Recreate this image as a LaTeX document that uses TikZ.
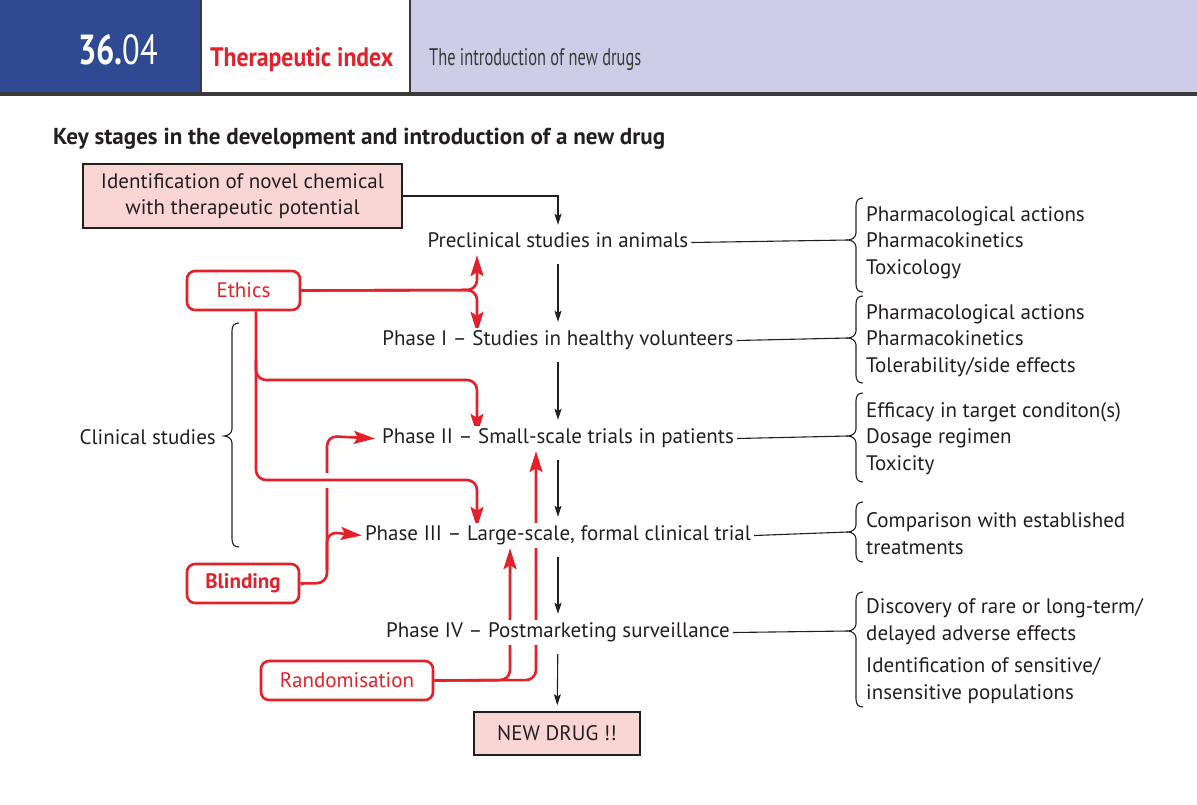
\documentclass[tikz,border=0pt]{standalone}
\usepackage{fontspec}
\setmainfont{PT Sans}
\usetikzlibrary{arrows.meta}
\pgfdeclarelayer{bg}
\pgfsetlayers{bg,main}
\definecolor{hdrblue}{HTML}{2F4A93}
\definecolor{hdrlav}{HTML}{CDCDE7}
\definecolor{hdrline}{HTML}{3A3A3A}
\definecolor{myred}{HTML}{E3212B}
\definecolor{boxpink}{HTML}{F9D6D4}
\definecolor{ink}{HTML}{231F20}
\newcommand\bodyfont{\fontsize{21}{26.5}\selectfont}
\newcommand\mybrace[4]{% x of spine, top, tip, bottom
  \draw[blkln] (#1+7,#2) .. controls (#1+2,#2) and (#1,#2+3) .. (#1,#2+8)
    -- (#1,#3-7) .. controls (#1,#3-3) and (#1-4,#3) .. (#1-8,#3)
    .. controls (#1-4,#3) and (#1,#3+3) .. (#1,#3+7)
    -- (#1,#4-8) .. controls (#1,#4-3) and (#1+2,#4) .. (#1+7,#4);}
\begin{document}
\begin{tikzpicture}[x=1pt,y=-1pt,
  stage/.style={font=\bodyfont, text=ink, fill=white, inner sep=3pt, text height=14pt, text depth=5pt, anchor=base},
  listtxt/.style={font=\bodyfont, text=ink, align=left, anchor=west, inner sep=0pt},
  pinkbox/.style={draw=ink, line width=1.3pt, fill=boxpink, font=\bodyfont, text=ink, align=center, inner sep=0pt},
  redbox/.style={draw=myred, line width=2.6pt, rounded corners=8pt, fill=white, text=myred, font=\bodyfont, inner sep=0pt},
  redln/.style={myred, line width=2.6pt, rounded corners=10pt},
  redarr/.style={redln, -{Stealth[length=21pt,width=13pt,inset=4pt]}},
  blkln/.style={ink, line width=1.1pt},
  blkarr/.style={blkln, -{Stealth[length=11pt,width=7pt,inset=2pt]}, shorten <=9pt, shorten >=6pt}]
\useasboundingbox (0,0) rectangle (1197,804);
\begin{pgfonlayer}{bg}
\fill[white] (0,0) rectangle (1197,804);
\end{pgfonlayer}
% header
\fill[hdrblue] (0,0) rectangle (200,93);
\fill[hdrlav] (410,0) rectangle (1197,93);
\draw[hdrline, line width=2pt] (201,0) -- (201,93) (410,0) -- (410,93);
\fill[hdrline] (0,92) rectangle (1197,95.5);
\node[anchor=base west, inner sep=0pt, text=white] (num) at (78,64) {\resizebox{80pt}{30pt}{\bfseries 36.\mdseries 04}};
\node[anchor=base west, inner sep=0pt, text=myred] (chap) at (210,66) {\resizebox{183pt}{19pt}{\bfseries Therapeutic index}};
\node[anchor=base west, inner sep=0pt, text=hdrline] (sub) at (429,65) {\resizebox{212pt}{17pt}{The introduction of new drugs}};
% title
\node[anchor=base west, inner sep=0pt, text=ink] (title) at (53,144) {\resizebox{612pt}{!}{\fontsize{20}{24}\selectfont\bfseries Key stages in the development and introduction of a new drug}};
% main boxes and stages
\node[pinkbox, minimum width=319pt, minimum height=64pt] (ident) at (242.5,196) {Identification of novel chemical\\with therapeutic potential};
\node[stage] (pre) at (558,247) {Preclinical studies in animals};
\node[stage] (p1) at (558,345) {Phase I -- Studies in healthy volunteers};
\node[stage] (p2) at (558,443) {Phase II -- Small-scale trials in patients};
\node[stage] (p3) at (558,540) {Phase III -- Large-scale, formal clinical trial};
\node[stage] (p4) at (558,637) {Phase IV -- Postmarketing surveillance};
\node[pinkbox, minimum width=166pt, minimum height=43pt] (newdrug) at (557,733.5) {NEW DRUG !!};
% red boxes
\node[redbox, minimum width=113pt, minimum height=39pt] (ethics) at (243.5,290.5) {Ethics};
\node[redbox, minimum width=112pt, minimum height=39pt, font=\bodyfont\bfseries] (blind) at (243,583.5) {Blinding};
\node[redbox, minimum width=172pt, minimum height=39pt] (rand) at (347,680.5) {Randomisation};
% black flow
\draw[blkln, -{Stealth[length=11pt,width=7pt,inset=2pt]}, shorten >=5pt] (ident.east) -| (pre.north);
\draw[blkarr] (pre) -- (p1);
\draw[blkarr] (p1) -- (p2);
\draw[blkarr] (p2) -- (p3);
\draw[blkarr] (p3) -- (p4);
\draw[blkarr] (p4) -- (newdrug);
% right braces and lists
\coordinate (t1) at (848,240);
\coordinate (t2) at (848,338);
\coordinate (t3) at (848,436);
\coordinate (t4) at (848,532);
\coordinate (t5) at (848,631);
\mybrace{856}{198}{240}{292}
\mybrace{856}{296}{338}{383}
\mybrace{856}{393}{436}{482}
\mybrace{856}{502}{532}{562}
\mybrace{856}{592}{631}{707}
\draw[blkln] (pre.east) -- (t1);
\draw[blkln] (p1.east) -- (t2);
\draw[blkln] (p2.east) -- (t3);
\draw[blkln] (p3.east) -- (t4);
\draw[blkln] (p4.east) -- (t5);
\node[listtxt] (l1) at (866,242.5) {Pharmacological actions\\Pharmacokinetics\\Toxicology};
\node[listtxt] (l2) at (866,340.5) {Pharmacological actions\\Pharmacokinetics\\Tolerability/side effects};
\node[listtxt] (l3) at (866,438.5) {Efficacy in target conditon(s)\\Dosage regimen\\Toxicity};
\node[listtxt] (l4) at (866,533.5) {Comparison with established\\treatments};
\node[listtxt] (l5a) at (866,621.5) {Discovery of rare or long-term/\\delayed adverse effects};
\node[listtxt] (l5b) at (866,680.5) {Identification of sensitive/\\insensitive populations};
% left brace
\mybrace{232}{323}{436}{547}
\node[font=\bodyfont, text=ink, anchor=east, inner sep=0pt] (clin) at (216,437) {Clinical studies};
% red connectors (behind stage labels)
\begin{pgfonlayer}{bg}
\draw[redarr] (ethics.east) -- (477,290) -- (477,0 |- pre.south);
\draw[redarr] (ethics.east) -- (477,290) -- ([yshift=-5pt]477,0 |- p1.north);
\draw[redarr] (256,0 |- ethics.south) -- (256,380) -- (477,380) -- ([yshift=-9pt]477,0 |- p2.north);
% blinding
\draw[redarr] (blind.east) -- (327,583) -- (327,436) -- ([xshift=-4pt]p2.west);
\draw[redarr] (327,570) -- (327,532) -- (p3.west);
% ethics lower branch crossing over blinding line
\draw[white, line width=15pt] (305,480) -- (350,480);
\draw[redarr] (256,360) -- (256,480) -- (477,480) -- ([yshift=-5pt]477,0 |- p3.north);
% randomisation
\draw[redarr] (rand.east) -- (510,680) -- (510,0 |- p3.south);
\draw[redarr] (rand.east) -- (536,680) -- (536,0 |- p2.south);
\end{pgfonlayer}
\end{tikzpicture}
\end{document}
